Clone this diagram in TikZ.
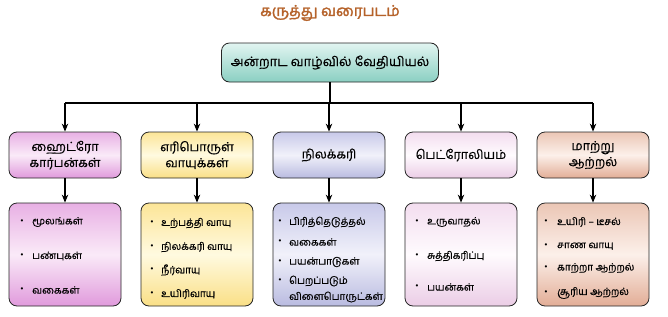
\documentclass[tikz,border=0pt]{standalone}
\usepackage{fontspec}
\setmainfont{Liberation Sans}
\newfontfamily\tamil[Script=Tamil, FakeBold=0.5]{Hind Madurai}
\newfontfamily\tamilt[Script=Tamil, FakeBold=2]{Hind Madurai}
\usetikzlibrary{arrows.meta}
\definecolor{titlec}{HTML}{B5622A}
\definecolor{rootT}{HTML}{E2F5F1}\definecolor{rootB}{HTML}{8ACFC2}
\definecolor{pkT}{HTML}{E8B0E4}\definecolor{pkM}{HTML}{FAEAF8}\definecolor{pkB}{HTML}{E09ADC}
\definecolor{ylT}{HTML}{FCE597}\definecolor{ylM}{HTML}{FFFAE0}\definecolor{ylB}{HTML}{FADF86}
\definecolor{lvT}{HTML}{C8C9E9}\definecolor{lvM}{HTML}{F1F1FA}\definecolor{lvB}{HTML}{B9BBE0}
\definecolor{wpT}{HTML}{F3DDEF}\definecolor{wpM}{HTML}{FFFBFE}\definecolor{wpB}{HTML}{EBCDE6}
\definecolor{pcT}{HTML}{EBC6B5}\definecolor{pcM}{HTML}{FCF0EA}\definecolor{pcB}{HTML}{E2AD96}
\newcommand{\bul}{{\rmfamily\fontsize{8}{9}\selectfont\textbullet}}
\tikzset{
  box/.style={draw=black!85, line width=0.8pt, rounded corners=8pt, minimum width=112pt,
    inner sep=0pt, align=center, font=\tamil\fontsize{12.5}{16}\selectfont},
  midbox/.style={box, minimum height=46pt},
  lowbox/.style={box, minimum height=103pt},
  shd/.style n args={3}{top color=#1, bottom color=#3, middle color=#2},
  itm/.style={anchor=west, inner sep=0pt, font=\tamil\fontsize{10}{12}\selectfont},
  bl/.style={inner sep=0pt},
  conn/.style={line width=1.1pt},
  arr/.style={conn, -{Stealth[length=8pt,width=6.5pt]}},
}
\begin{document}
\begin{tikzpicture}[x=1pt,y=-1pt]
\useasboundingbox (0,0) rectangle (668,316);
\node[text=titlec, font=\tamilt\fontsize{15}{17}\selectfont] (title) at (330,13) {கருத்து வரைபடம்};
\node[box, minimum width=217pt, minimum height=39pt, top color=rootT, bottom color=rootB,
  font=\tamil\fontsize{13}{15}\selectfont] (root) at (330,62.5) {அன்றாட வாழ்வில் வேதியியல்};
% middle boxes
\node[midbox, shd={pkT}{pkM}{pkB}] (m1) at (65,155) {ஹைட்ரோ\\கார்பன்கள்};
\node[midbox, shd={ylT}{ylM}{ylB}] (m2) at (197,155) {எரிபொருள்\\வாயுக்கள்};
\node[midbox, shd={lvT}{lvM}{lvB}] (m3) at (329,155) {நிலக்கரி};
\node[midbox, shd={wpT}{wpM}{wpB}] (m4) at (461,155) {பெட்ரோலியம்};
\node[midbox, shd={pcT}{pcM}{pcB}] (m5) at (593,155) {மாற்று\\ஆற்றல்};
% lower boxes
\node[lowbox, shd={pkT}{pkM}{pkB}] (b1) at (65,254.5) {};
\node[lowbox, shd={ylT}{ylM}{ylB}] (b2) at (197,254.5) {};
\node[lowbox, shd={lvT}{lvM}{lvB}] (b3) at (329,254.5) {};
\node[lowbox, shd={wpT}{wpM}{wpB}] (b4) at (461,254.5) {};
\node[lowbox, shd={pcT}{pcM}{pcB}] (b5) at (593,254.5) {};
% connectors
\coordinate (j) at (330,103);
\draw[conn] (root.south) -- (j);
\draw[conn] (m1.north |- j) -- (m5.north |- j);
\foreach \i in {1,...,5}{
  \draw[arr] (m\i.north |- j) -- (m\i.north);
  \draw[arr] (m\i.south) -- (b\i.north);
}
% items box 1
\node[bl] (p11) at (22,222) {\bul}; \node[itm] (t11) at (32,222) {மூலங்கள்};
\node[bl] (p12) at (22,256) {\bul}; \node[itm] (t12) at (32,256) {பண்புகள்};
\node[bl] (p13) at (22,290) {\bul}; \node[itm] (t13) at (32,290) {வகைகள்};
% items box 2
\node[bl] (p21) at (152,223) {\bul}; \node[itm] (t21) at (161,223) {உற்பத்தி வாயு};
\node[bl] (p22) at (152,247) {\bul}; \node[itm] (t22) at (161,247) {நிலக்கரி வாயு};
\node[bl] (p23) at (152,270) {\bul}; \node[itm] (t23) at (161,270) {நீர்வாயு};
\node[bl] (p24) at (152,294) {\bul}; \node[itm] (t24) at (161,294) {உயிரிவாயு};
% items box 3
\node[bl] (p31) at (280,222) {\bul}; \node[itm] (t31) at (289,222) {பிரித்தெடுத்தல்};
\node[bl] (p32) at (280,242) {\bul}; \node[itm] (t32) at (289,242) {வகைகள்};
\node[bl] (p33) at (280,262) {\bul}; \node[itm] (t33) at (289,262) {பயன்பாடுகள்};
\node[bl] (p34) at (280,281) {\bul}; \node[itm] (t34) at (289,281) {பெறப்படும்};
\node[itm] (t35) at (289,297) {விளைபொருட்கள்};
% items box 4
\node[bl] (p41) at (417,222) {\bul}; \node[itm] (t41) at (427,222) {உருவாதல்};
\node[bl] (p42) at (417,256) {\bul}; \node[itm] (t42) at (427,256) {சுத்திகரிப்பு};
\node[bl] (p43) at (417,287) {\bul}; \node[itm] (t43) at (427,287) {பயன்கள்};
% items box 5
\node[bl] (p51) at (546,222) {\bul}; \node[itm] (t51) at (557,222) {உயிரி – டீசல்};
\node[bl] (p52) at (546,246) {\bul}; \node[itm] (t52) at (557,246) {சாண வாயு};
\node[bl] (p53) at (546,268) {\bul}; \node[itm] (t53) at (557,268) {காற்றா ஆற்றல்};
\node[bl] (p54) at (546,293) {\bul}; \node[itm] (t54) at (557,293) {சூரிய ஆற்றல்};
\end{tikzpicture}
\end{document}
